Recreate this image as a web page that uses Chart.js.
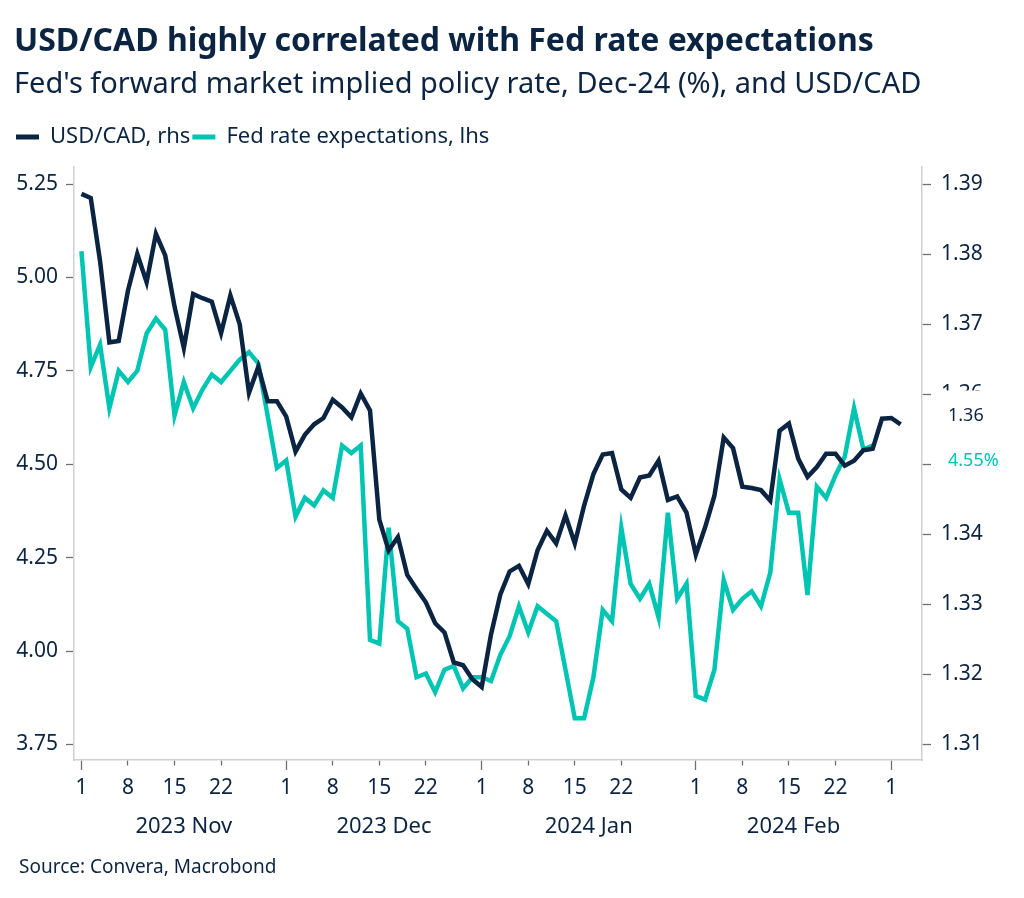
<!DOCTYPE html>
<html>
<head>
<meta charset="utf-8">
<script src="https://cdn.jsdelivr.net/npm/chart.js@4.4.0/dist/chart.umd.min.js"></script>
<style>
  html, body { margin: 0; padding: 0; background: #ffffff; }
  #wrap { position: relative; width: 1024px; height: 898px; }
  #source { position: absolute; left: 19px; top: 854px; font: 19px 'Noto Sans', sans-serif; color: #0b2442; line-height: 24px; white-space: nowrap; }
</style>
</head>
<body>
<div id="wrap">
  <canvas id="c" width="1024" height="898"></canvas>
  <div id="source">Source: Convera, Macrobond</div>
</div>
<script>
// Business days (x categories)
const dates = [
  '2023-11-01','2023-11-02','2023-11-03','2023-11-06','2023-11-07','2023-11-08','2023-11-09','2023-11-10',
  '2023-11-13','2023-11-14','2023-11-15','2023-11-16','2023-11-17','2023-11-20','2023-11-21','2023-11-22',
  '2023-11-23','2023-11-24','2023-11-27','2023-11-28','2023-11-29','2023-11-30',
  '2023-12-01','2023-12-04','2023-12-05','2023-12-06','2023-12-07','2023-12-08','2023-12-11','2023-12-12',
  '2023-12-13','2023-12-14','2023-12-15','2023-12-18','2023-12-19','2023-12-20','2023-12-21','2023-12-22',
  '2023-12-25','2023-12-26','2023-12-27','2023-12-28','2023-12-29',
  '2024-01-01','2024-01-02','2024-01-03','2024-01-04','2024-01-05','2024-01-08','2024-01-09','2024-01-10',
  '2024-01-11','2024-01-12','2024-01-15','2024-01-16','2024-01-17','2024-01-18','2024-01-19','2024-01-22',
  '2024-01-23','2024-01-24','2024-01-25','2024-01-26','2024-01-29','2024-01-30','2024-01-31',
  '2024-02-01','2024-02-02','2024-02-05','2024-02-06','2024-02-07','2024-02-08','2024-02-09','2024-02-12',
  '2024-02-13','2024-02-14','2024-02-15','2024-02-16','2024-02-19','2024-02-20','2024-02-21','2024-02-22',
  '2024-02-23','2024-02-26','2024-02-27','2024-02-28','2024-02-29',
  '2024-03-01','2024-03-04'
];

// USD/CAD (right axis)
const usdcad = [
  1.3886, 1.3880, 1.3790, 1.3674, 1.3676, 1.3748, 1.3800, 1.3760, 1.3829, 1.3798,
  1.3725, 1.3666, 1.3743, 1.3737, 1.3732, 1.3687, 1.3741, 1.3700, 1.3602, 1.3639,
  1.3590, 1.3590, 1.3568, 1.3518, 1.3542, 1.3557, 1.3566, 1.3592, 1.3581, 1.3567,
  1.3601, 1.3577, 1.3421, 1.3377, 1.3396, 1.3342, 1.3322, 1.3303, 1.3273, 1.3260,
  1.3217, 1.3213, 1.3193, 1.3182, 1.3257, 1.3314, 1.3347, 1.3355, 1.3329, 1.3377,
  1.3405, 1.3387, 1.3427, 1.3387, 1.3441, 1.3486, 1.3514, 1.3516, 1.3464, 1.3452,
  1.3481, 1.3484, 1.3505, 1.3449, 1.3454, 1.3431, 1.3371, 1.3410, 1.3455, 1.3538,
  1.3523, 1.3468, 1.3466, 1.3463, 1.3448, 1.3548, 1.3558, 1.3508, 1.3482, 1.3496,
  1.3515, 1.3515, 1.3498, 1.3505, 1.3520, 1.3522, 1.3565, 1.3566, 1.3557
];

// Fed rate expectations, Dec-24 (%) (left axis)
const fedRate = [
  5.07, 4.76, 4.82, 4.65, 4.75, 4.72, 4.75, 4.85, 4.89, 4.86,
  4.63, 4.72, 4.65, 4.70, 4.74, 4.72, 4.75, 4.78, 4.80, 4.77,
  4.63, 4.49, 4.51, 4.36, 4.41, 4.39, 4.43, 4.41, 4.55, 4.53,
  4.55, 4.03, 4.02, 4.33, 4.08, 4.06, 3.93, 3.94, 3.89, 3.95,
  3.96, 3.90, 3.93, 3.93, 3.92, 3.99, 4.04, 4.12, 4.05, 4.12,
  4.10, 4.08, 3.95, 3.82, 3.82, 3.93, 4.11, 4.08, 4.33, 4.18,
  4.14, 4.18, 4.09, 4.37, 4.14, 4.18, 3.88, 3.87, 3.95, 4.19,
  4.11, 4.14, 4.16, 4.12, 4.21, 4.46, 4.37, 4.37, 4.15, 4.44,
  4.41, 4.47, 4.52, 4.65, 4.54, 4.55
];

// Tick labels
const dayTickLabels = [1, 8, 15, 22];
const monthKeys = ['2023-11', '2023-12', '2024-01', '2024-02', '2024-03'];
const monthLabels = ['2023 Nov', '2023 Dec', '2024 Jan', '2024 Feb'];
const leftTicks = [3.75, 4.00, 4.25, 4.50, 4.75, 5.00, 5.25];
const rightTicks = [1.31, 1.32, 1.33, 1.34, 1.35, 1.36, 1.37, 1.38, 1.39];

const NAVY = '#0b2442';
const TEAL = '#00c5b2';
const AXIS = '#d0d0d0';
const TICK = '#707070';
Chart.defaults.font.family = "'Noto Sans', 'Open Sans', sans-serif";
Chart.defaults.color = NAVY;

const dayOf = i => parseInt(dates[i].slice(8, 10), 10);
const xTickIdx = dates.map((d, i) => i).filter(i => dayTickLabels.includes(dayOf(i)));
const monthStart = monthKeys.map(k => dates.findIndex(d => d.startsWith(k)));
const monthCenters = monthLabels.map((m, i) => (monthStart[i] + monthStart[i + 1]) / 2);

const X_MIN = -0.8, X_MAX = 90.3;

const legendGap = {
  id: 'legendGap',
  beforeLayout(chart) {
    const lg = chart.legend;
    if (lg && !lg._gapPatched) {
      const orig = lg.fit;
      lg.fit = function () { orig.call(this); this.height = 43; };
      lg._gapPatched = true;
    }
  }
};

const endLabels = {
  id: 'endLabels',
  afterDraw(chart) {
    const ctx = chart.ctx;
    const items = chart.data.datasets.map(ds => {
      const last = ds.data[ds.data.length - 1].y;
      const scale = chart.scales[ds.yAxisID];
      return { y: scale.getPixelForValue(last), text: ds.endText(last), color: ds.borderColor };
    }).sort((a, b) => a.y - b.y);
    const minSep = 45;
    for (let k = 1; k < items.length; k++) {
      const gap = items[k].y - items[k - 1].y;
      if (gap < minSep) {
        const mid = (items[k].y + items[k - 1].y) / 2;
        items[k - 1].y = mid - minSep / 2;
        items[k].y = mid + minSep / 2;
      }
    }
    ctx.save();
    items.forEach(it => {
      ctx.fillStyle = '#ffffff';
      ctx.fillRect(935, it.y - 22, 89, 44);
    });
    ctx.font = "18px 'Noto Sans', sans-serif";
    ctx.textBaseline = 'middle';
    ctx.textAlign = 'left';
    items.forEach(it => {
      ctx.fillStyle = it.color;
      ctx.fillText(it.text, 948, it.y + 3);
    });
    ctx.restore();
  }
};

new Chart(document.getElementById('c'), {
  type: 'line',
  data: {
    datasets: [
      {
        label: 'USD/CAD, rhs',
        data: usdcad.map((v, i) => ({ x: i, y: v })),
        yAxisID: 'y1', xAxisID: 'x',
        borderColor: NAVY, backgroundColor: NAVY,
        borderWidth: 4.5, pointRadius: 0, tension: 0,
        endText: v => v.toFixed(2)
      },
      {
        label: 'Fed rate expectations, lhs',
        data: fedRate.map((v, i) => ({ x: i, y: v })),
        yAxisID: 'y', xAxisID: 'x',
        borderColor: TEAL, backgroundColor: TEAL,
        borderWidth: 4.5, pointRadius: 0, tension: 0,
        endText: v => v.toFixed(2) + '%'
      }
    ]
  },
  options: {
    responsive: false,
    animation: false,
    layout: { padding: { left: 14, right: 0, top: 0, bottom: 52 } },
    plugins: {
      title: {
        display: true, align: 'start',
        text: 'USD/CAD highly correlated with Fed rate expectations',
        color: NAVY, font: { size: 32, weight: 'bold' },
        padding: { top: 23, bottom: 0 }
      },
      subtitle: {
        display: true, align: 'start',
        text: "Fed's forward market implied policy rate, Dec-24 (%), and USD/CAD",
        color: NAVY, font: { size: 29 },
        padding: { top: 5.5, bottom: 22.3 }
      },
      legend: {
        display: true, position: 'top', align: 'start',
        labels: {
          boxWidth: 23, boxHeight: 5, padding: 2, color: NAVY,
          font: { size: 22 },
          generateLabels(chart) {
            return Chart.defaults.plugins.legend.labels.generateLabels(chart).map(l => Object.assign(l, { lineWidth: 0 }));
          }
        }
      },
      tooltip: { enabled: false }
    },
    scales: {
      x: {
        type: 'linear', position: 'bottom', weight: 0,
        min: X_MIN, max: X_MAX,
        afterBuildTicks: s => { s.ticks = xTickIdx.map(v => ({ value: v })); },
        afterFit: s => { s.height = 46; },
        grid: {
          display: true, drawOnChartArea: false, drawTicks: true,
          tickLength: 10, tickColor: TICK, tickWidth: 1.3,
          tickBorderDash: c => (c.tick && dayOf(c.tick.value) === 1) ? [] : [5, 30]
        },
        border: { display: true, color: AXIS, width: 1.5 },
        ticks: {
          autoSkip: false, maxRotation: 0, padding: 5, color: NAVY,
          font: { size: 21 },
          callback: v => String(dayOf(v))
        }
      },
      xm: {
        type: 'linear', position: 'bottom', weight: 1,
        min: X_MIN, max: X_MAX,
        afterBuildTicks: s => { s.ticks = monthCenters.map(v => ({ value: v })); },
        afterFit: s => { s.height = 40; },
        grid: { display: false, drawTicks: false, drawOnChartArea: false },
        border: { display: false },
        ticks: {
          autoSkip: false, maxRotation: 0, padding: 8, color: NAVY,
          font: { size: 22 },
          callback: v => monthLabels[monthCenters.indexOf(v)]
        }
      },
      y: {
        type: 'linear', position: 'left',
        min: 3.7085, max: 5.2955,
        afterBuildTicks: s => { s.ticks = leftTicks.map(v => ({ value: v })); },
        afterFit: s => { s.width = 60; },
        grid: { display: true, drawOnChartArea: false, tickLength: 8, tickColor: TICK, tickWidth: 1.3 },
        border: { display: true, color: AXIS, width: 1.5 },
        ticks: { padding: 8, color: NAVY, font: { size: 21 }, callback: v => v.toFixed(2) }
      },
      y1: {
        type: 'linear', position: 'right',
        min: 1.30778, max: 1.39243,
        afterBuildTicks: s => { s.ticks = rightTicks.map(v => ({ value: v })); },
        afterFit: s => { s.width = 102; },
        grid: { display: true, drawOnChartArea: false, tickLength: 9, tickColor: TICK, tickWidth: 1.3 },
        border: { display: true, color: AXIS, width: 1.5 },
        ticks: { padding: 10, color: NAVY, font: { size: 21 }, callback: v => v.toFixed(2) }
      }
    }
  },
  plugins: [legendGap, endLabels]
});
</script>
</body>
</html>
